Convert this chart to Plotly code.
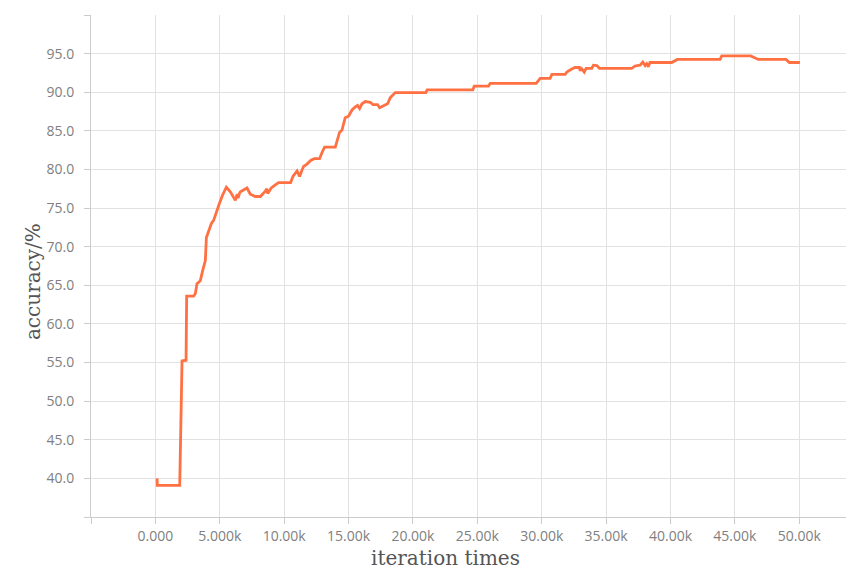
import plotly.graph_objects as go

# ---- data ----
iterations_k = [
    0.13, 0.15, 1.89, 1.98, 2.07, 2.38, 2.43, 2.97, 3.10, 3.23, 3.49, 3.67, 3.88, 3.96,
    4.14, 4.35, 4.52, 4.79, 4.97, 5.22, 5.51, 5.82, 6.21, 6.35, 6.42, 6.55, 6.60, 7.11,
    7.37, 7.76, 8.15, 8.54, 8.65, 8.72, 9.00, 9.31, 9.57, 10.50, 10.68, 11.00, 11.20,
    11.38, 11.51, 11.77, 12.08, 12.34, 12.75, 12.94, 13.14, 13.97, 14.10, 14.30, 14.49,
    14.74, 15.00, 15.27, 15.52, 15.70, 15.86, 16.04, 16.30, 16.68, 16.90, 17.25, 17.41,
    17.77, 18.03, 18.24, 18.63, 21.00, 21.10, 24.65, 24.76, 25.87, 26.00, 29.57, 29.88,
    30.65, 30.79, 31.82, 31.95, 32.33, 32.59, 32.93, 32.98, 33.10, 33.30, 33.45, 33.89,
    34.02, 34.28, 34.48, 36.99, 37.25, 37.64, 37.85, 38.03, 38.15, 38.28, 38.41, 40.10,
    40.53, 43.85, 43.98, 46.23, 46.82, 48.97, 49.23, 50.05,
]
accuracy = [
    40.0, 39.1, 39.1, 47.4, 55.2, 55.3, 63.6, 63.6, 63.9, 65.2, 65.6, 66.9, 68.2, 71.2,
    72.1, 73.0, 73.4, 74.9, 75.6, 76.7, 77.7, 77.1, 76.0, 76.8, 76.3, 77.0, 77.1, 77.6,
    76.8, 76.5, 76.5, 77.2, 77.5, 76.9, 77.6, 78.0, 78.3, 78.3, 79.1, 79.8, 79.1,
    79.9, 80.4, 80.7, 81.2, 81.4, 81.4, 82.2, 82.9, 82.9, 83.6, 84.8, 85.1,
    86.7, 86.9, 87.7, 88.1, 88.3, 87.9, 88.5, 88.8, 88.7, 88.4, 88.4, 88.0,
    88.3, 88.5, 89.3, 89.95, 89.95, 90.3, 90.3, 90.8, 90.8, 91.15, 91.15, 91.8,
    91.8, 92.3, 92.3, 92.6, 93.0, 93.2, 93.2, 92.8, 93.05, 92.6, 93.1, 93.1,
    93.5, 93.45, 93.1, 93.1, 93.4, 93.5, 93.9, 93.45, 93.7, 93.3, 93.85, 93.85,
    94.25, 94.25, 94.7, 94.7, 94.25, 94.25, 93.85, 93.85,
]
iterations = [v * 1000 for v in iterations_k]

x_tick_values = [-5000, 0, 5000, 10000, 15000, 20000, 25000, 30000, 35000, 40000, 45000, 50000]
x_tick_labels = ["", "0.000", "5.000k", "10.00k", "15.00k", "20.00k", "25.00k",
                 "30.00k", "35.00k", "40.00k", "45.00k", "50.00k"]
y_tick_values = [35, 40, 45, 50, 55, 60, 65, 70, 75, 80, 85, 90, 95, 100]
y_tick_labels = ["", "40.0", "45.0", "50.0", "55.0", "60.0", "65.0", "70.0", "75.0",
                 "80.0", "85.0", "90.0", "95.0", ""]

x_title = "iteration times"
y_title = "accuracy/%"

fig = go.Figure()
fig.add_trace(go.Scatter(
    x=iterations, y=accuracy, mode="lines",
    line=dict(color="#ff7043", width=2.8),
    showlegend=False,
))

grid = "#e2e2e2"
axc = "#cccccc"
tickfont = dict(family="Open Sans", size=14, color="#808080")

fig.update_xaxes(
    range=[-5000, 54250], tickmode="array", tickvals=x_tick_values, ticktext=x_tick_labels,
    showgrid=True, gridcolor=grid, gridwidth=1, zeroline=False,
    showline=True, linecolor=axc, linewidth=1,
    ticks="outside", ticklen=6, tickcolor=axc, tickfont=tickfont,
)
fig.update_yaxes(
    range=[35, 100], tickmode="array", tickvals=y_tick_values, ticktext=y_tick_labels,
    showgrid=True, gridcolor=grid, gridwidth=1, zeroline=False,
    showline=True, linecolor=axc, linewidth=1,
    ticks="outside", ticklen=6, tickcolor=axc, tickfont=tickfont,
    ticklabelstandoff=7,
)

title_font = dict(family="DejaVu Serif", size=20, color="#555555")
fig.add_annotation(text=x_title, xref="paper", yref="paper", x=0.464, y=-0.081,
                   showarrow=False, font=title_font, xanchor="center", yanchor="middle")
fig.add_annotation(text=y_title, xref="paper", yref="paper", x=-0.076, y=0.468,
                   showarrow=False, font=title_font, textangle=-90,
                   xanchor="center", yanchor="middle")

fig.add_shape(type="line", xref="paper", yref="paper", x0=-0.110, x1=-0.110, y0=-0.2, y1=1.1,
              line=dict(color="#dddddd", width=1))

# page body has an 8px margin, so the figure is sized to the remaining window
fig.update_layout(
    width=846, height=565, autosize=False,
    margin=dict(l=83, r=0, t=7, b=56),
    paper_bgcolor="white", plot_bgcolor="white",
)

fig.write_html("out.html")
